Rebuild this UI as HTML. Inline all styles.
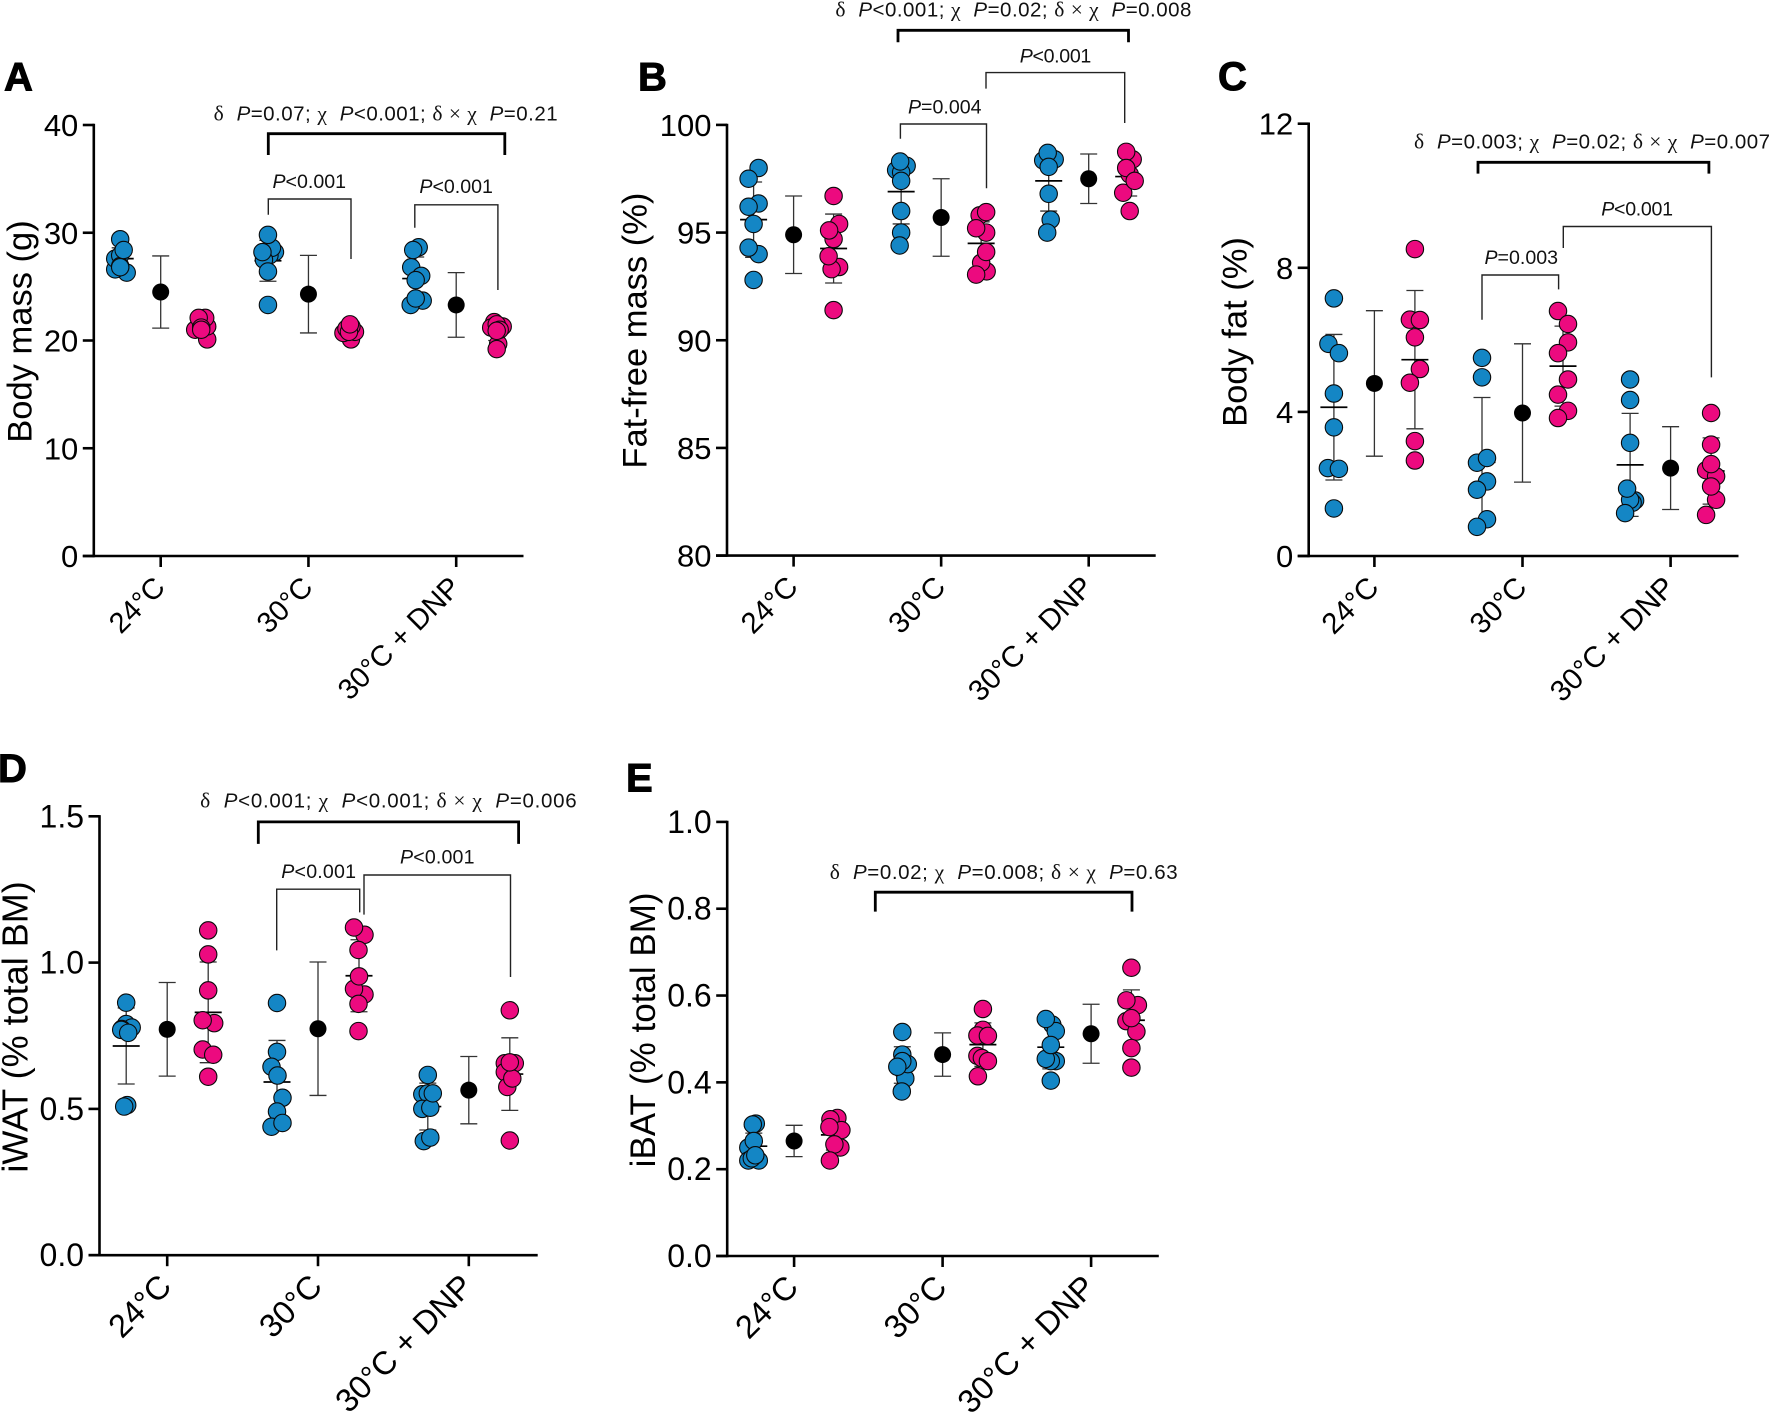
<!DOCTYPE html>
<html lang="en">
<head>
<meta charset="utf-8">
<title>Body composition by temperature and DNP treatment</title>
<style>
html,body{margin:0;padding:0;background:#fff;}
svg{display:block;font-family:"Liberation Sans",Arial,sans-serif;}
.letter{font-size:40px;font-weight:700;stroke:#000;stroke-width:1px;}
.ytitle{font-size:34.5px;text-anchor:middle;}
.anno{font-size:20.5px;fill:#111;}
.anno.sm{font-size:19.6px;}
.gk{font-family:"Liberation Serif",serif;font-size:21.5px;}
.it{font-style:italic;}
.bk{fill:none;stroke:#000;stroke-width:2.8px;}
.br{fill:none;stroke:#222;stroke-width:1.4px;}
.tick-label{font-size:31px;text-anchor:end;}
.cat-label{text-anchor:end;}
</style>
</head>
<body>
<svg id="fig" xmlns="http://www.w3.org/2000/svg" width="1772" height="1416" viewBox="0 0 1772 1416">
<rect width="1772" height="1416" fill="#fff"/>

<g id="panel-a">
  <text class="letter" x="4" y="90.7">A</text>
  <text class="ytitle" transform="translate(31.4 331.5) rotate(-90)">Body mass (g)</text>
  <text class="anno" x="213.6" y="120.7" textLength="344" lengthAdjust="spacing"><tspan class="gk">δ</tspan>&#160;&#160;<tspan class="it">P</tspan>=0.07; <tspan class="gk">χ</tspan>&#160;&#160;<tspan class="it">P</tspan>&lt;0.001; <tspan class="gk">δ × χ</tspan>&#160;&#160;<tspan class="it">P</tspan>=0.21</text>
  <path class="bk" d="M268.3 155V133.7H504.8V155"/>
  <path class="br" d="M268.3 214.8V199H351V259"/>
  <text class="anno sm" x="272.5" y="188" textLength="73.5"><tspan class="it">P</tspan>&lt;0.001</text>
  <path class="br" d="M414.8 227.8V204.8H497.9V290"/>
  <text class="anno sm" x="419.4" y="193" textLength="73.5"><tspan class="it">P</tspan>&lt;0.001</text>
</g>

<g id="panel-b">
  <text class="letter" x="638" y="90.5">B</text>
  <text class="ytitle" transform="translate(646.7 330.6) rotate(-90)">Fat-free mass (%)</text>
  <text class="anno" x="835.4" y="16.5" textLength="356" lengthAdjust="spacing"><tspan class="gk">δ</tspan>&#160;&#160;<tspan class="it">P</tspan>&lt;0.001; <tspan class="gk">χ</tspan>&#160;&#160;<tspan class="it">P</tspan>=0.02; <tspan class="gk">δ × χ</tspan>&#160;&#160;<tspan class="it">P</tspan>=0.008</text>
  <path class="bk" d="M898 42.2V30.3H1128.5V42.2"/>
  <path class="br" d="M986 88.6V72.6H1124.7V123"/>
  <text class="anno sm" x="1019.8" y="62.5" textLength="71.5"><tspan class="it">P</tspan>&lt;0.001</text>
  <path class="br" d="M900.4 138.7V124H986.5V188.3"/>
  <text class="anno sm" x="908" y="113.4" textLength="73.5"><tspan class="it">P</tspan>=0.004</text>
</g>

<g id="panel-c">
  <text class="letter" x="1218" y="89.9">C</text>
  <text class="ytitle" transform="translate(1246.3 332) rotate(-90)">Body fat (%)</text>
  <text class="anno" x="1414" y="148.4" textLength="356" lengthAdjust="spacing"><tspan class="gk">δ</tspan>&#160;&#160;<tspan class="it">P</tspan>=0.003; <tspan class="gk">χ</tspan>&#160;&#160;<tspan class="it">P</tspan>=0.02; <tspan class="gk">δ × χ</tspan>&#160;&#160;<tspan class="it">P</tspan>=0.007</text>
  <path class="bk" d="M1478 173.6V162.3H1708.9V173.6"/>
  <path class="br" d="M1563.3 248V226.5H1711.4V377.4"/>
  <text class="anno sm" x="1601.3" y="215.6" textLength="71.7"><tspan class="it">P</tspan>&lt;0.001</text>
  <path class="br" d="M1482 319.7V275H1558.6V289.4"/>
  <text class="anno sm" x="1484.5" y="264.2" textLength="73.5"><tspan class="it">P</tspan>=0.003</text>
</g>

<g id="panel-d">
  <text class="letter" x="-2" y="782">D</text>
  <text class="ytitle" style="font-size:36px" transform="translate(27.5 1027) rotate(-90)">iWAT (% total BM)</text>
  <text class="anno" x="200.1" y="807.7" textLength="376.6" lengthAdjust="spacing"><tspan class="gk">δ</tspan>&#160;&#160;<tspan class="it">P</tspan>&lt;0.001; <tspan class="gk">χ</tspan>&#160;&#160;<tspan class="it">P</tspan>&lt;0.001; <tspan class="gk">δ × χ</tspan>&#160;&#160;<tspan class="it">P</tspan>=0.006</text>
  <path class="bk" d="M258.3 843.9V821.9H518.6V843.9"/>
  <path class="br" d="M276.7 950.4V889.2H359.7V912.4"/>
  <text class="anno sm" x="281.3" y="878" textLength="74.7"><tspan class="it">P</tspan>&lt;0.001</text>
  <path class="br" d="M364 914.6V875H510.5V977"/>
  <text class="anno sm" x="400" y="863.3" textLength="74.5"><tspan class="it">P</tspan>&lt;0.001</text>
</g>

<g id="panel-e">
  <text class="letter" x="626" y="791.7">E</text>
  <text class="ytitle" style="font-size:35px" transform="translate(655.2 1029.9) rotate(-90)">iBAT (% total BM)</text>
  <text class="anno" x="829.7" y="878.8" textLength="347.9" lengthAdjust="spacing"><tspan class="gk">δ</tspan>&#160;&#160;<tspan class="it">P</tspan>=0.02; <tspan class="gk">χ</tspan>&#160;&#160;<tspan class="it">P</tspan>=0.008; <tspan class="gk">δ × χ</tspan>&#160;&#160;<tspan class="it">P</tspan>=0.63</text>
  <path class="bk" d="M875.3 911.6V892.2H1132V911.6"/>
</g>
</svg>

<script>
// Shared categories
const categories = ['24°C', '30°C', '30°C + DNP'];

// Panel A – body mass (g)
const aTicks = [0, 10, 20, 30, 40];
const aTickLabels = ['0', '10', '20', '30', '40'];
const aBlue = [[26.3,26.6,27.6,29.4,27.9,26.9,28.4,26.8],[28.2,27.9,28.6,29.8,27.5,28.2,26.4,23.3],[23.7,28.65,23.3,26.8,28.4,26,25.6,23.9]];
const aBlueSwarm = [[1.3,-1,-1,0,0,0,0.7,0],[1.4,0.3,0.8,0,-0.8,-1.1,0,0],[1.4,0.6,-1,-0.9,-0.5,1.1,0,0]];
const aPink = [[20.1,21.3,21.0,21.5,22.1,22.1,21.2,21.0],[20.1,20.8,20.7,20.9,21.1,21.3,20.8,21.5],[19.7,21.3,21.7,21.2,21.5,21.0,20.9,19.2]];
const aPinkSwarm = [[1.2,1.2,-1.2,0,0.8,-0.5,0,0],[0.4,1.2,-1.1,0,-0.5,0.5,0,0.2],[0.3,1.2,-0.5,-1.1,0,0.6,0,0]];
const aBlueMean = [27.6,27.4,25.75];
const aBlueSd = [1.0,1.9,2.0];
const aPinkMean = [21.3,20.9,20.9];
const aPinkSd = [0.7,0.5,0.9];
const aPoolMean = [24.5,24.3,23.3];
const aPoolSd = [3.35,3.6,3.0];

// Panel B – fat-free mass (%)
const bTicks = [80, 85, 90, 95, 100];
const bTickLabels = ['80', '85', '90', '95', '100'];
const bBlue = [[98.0,97.5,96.35,96.2,95.4,94.0,94.3,92.8],[98.1,97.9,97.8,97.4,98.3,96,95,94.4],[98.4,98.35,98.7,98.05,96.8,95.6,95.0]];
const bBlueSwarm = [[1,-1,1,-1,0,1,-1,0],[1.1,-1,0,0,-0.2,0,0,-0.3],[1.2,-1.1,-0.2,0,0,0.4,-0.3]];
const bPink = [[96.7,95.4,94.7,95.1,93.4,93.3,93.9,91.4],[95.8,95.95,95,95.2,93.2,93.6,94.1,93.05],[98.4,98.75,97.7,98.0,96.0,96.85,97.4]];
const bPinkSwarm = [[0,1.1,0,-0.9,1.1,-0.4,-1,0],[-0.3,1,1,-1,1.1,0,1,-1],[0.8,-0.5,0.2,-0.5,0.2,-1.1,1.2]];
const bBlueMean = [95.6,96.9,97.4];
const bBlueSd = [1.75,1.5,1.4];
const bPinkMean = [94.26,94.5,97.6];
const bPinkSd = [1.6,1.0,0.9];
const bPoolMean = [94.9,95.7,97.5];
const bPoolSd = [1.8,1.8,1.15];

// Panel C – body fat (%)
const cTicks = [0, 4, 8, 12];
const cTickLabels = ['0', '4', '8', '12'];
const cBlue = [[7.15,5.89,5.63,4.51,3.57,2.44,2.42,1.32],[5.5,4.96,2.59,2.72,2.07,1.84,1.02,0.81],[4.9,4.33,3.14,1.54,1.48,1.56,1.19,1.87]];
const cBlueSwarm = [[0,-1.1,1,0,0,-1.2,1,0],[0,0,-1,1,1,-1,1,-1],[0,0,0,1,0.5,0,-1,-0.6]];
const cPink = [[8.52,6.56,6.55,6.07,5.19,4.81,3.19,2.65],[6.8,6.44,5.93,5.63,4.9,4.48,4.03,3.83],[3.97,3.09,2.38,2.21,2.55,1.56,1.93,1.14]];
const cPinkSwarm = [[0,-1,1,0,1,-1,0,0],[-1,1,1,-1,1,-1,1,-1],[0,0,-1,1,0,1,0,-1]];
const cBlueMean = [4.13,2.6,2.53];
const cBlueSd = [2.02,1.8,1.43];
const cPinkMean = [5.45,5.27,2.36];
const cPinkSd = [1.92,1.11,0.92];
const cPoolMean = [4.79,3.97,2.44];
const cPoolSd = [2.02,1.92,1.15];

// Panel D – iWAT (% total BM)
const dTicks = [0, 0.5, 1.0, 1.5];
const dTickLabels = ['0.0', '0.5', '1.0', '1.5'];
const dBlue = [[0.863,0.79,0.778,0.773,0.77,0.513,0.508,0.76],[0.862,0.695,0.644,0.614,0.538,0.491,0.439,0.452],[0.616,0.55,0.553,0.5,0.504,0.553,0.39,0.402]];
const dBlueSwarm = [[0,0,1.1,-0.9,-1,0.2,-0.4,0.4],[0,0,-1.1,0.1,1.1,0,-1.1,1.1],[0,-1.1,0,-1.1,0.5,1,-0.8,0.5]];
const dPink = [[1.11,1.028,0.905,0.793,0.803,0.703,0.685,0.61],[1.095,1.12,1.043,0.891,0.91,0.953,0.859,0.766],[0.837,0.656,0.656,0.626,0.575,0.604,0.659,0.392]];
const dPinkSwarm = [[0,0,0,1.2,-1.1,-1.1,1,0],[1.1,-1,-0.1,1.1,-1,0,-0.1,-0.1],[0,-1,1,-1,-0.5,0.5,0,0]];
const dBlueMean = [0.715,0.592,0.508];
const dBlueSd = [0.13,0.142,0.08];
const dPinkMean = [0.83,0.955,0.619];
const dPinkSd = [0.172,0.123,0.124];
const dPoolMean = [0.772,0.774,0.564];
const dPoolSd = [0.16,0.228,0.115];

// Panel E – iBAT (% total BM)
const eTicks = [0, 0.2, 0.4, 0.6, 0.8, 1.0];
const eTickLabels = ['0.0', '0.2', '0.4', '0.6', '0.8', '1.0'];
const eBlue = [[0.305,0.303,0.25,0.265,0.22,0.22,0.225,0.232],[0.516,0.464,0.429,0.409,0.379,0.442,0.449,0.436],[0.533,0.518,0.546,0.449,0.449,0.454,0.404,0.486]];
const eBlueSwarm = [[0.4,-0.2,-1.1,0,-1.1,1,-0.4,0.3],[0,0,0,0.6,-0.1,1.1,0,-1],[0.3,1,-1,1,0,-1,0,0]];
const ePink = [[0.318,0.315,0.29,0.25,0.297,0.257,0.22],[0.569,0.521,0.508,0.461,0.414,0.456,0.449,0.507],[0.664,0.578,0.541,0.517,0.479,0.434,0.589,0.548]];
const ePinkSwarm = [[0.6,-0.8,1.4,1.2,-1,0,-0.9],[0,0,-1.1,-1.1,-1,-0.2,1,1],[0,1.3,-1,1,0,0,-1,0]];
const eBlueMean = [0.253,0.44,0.481];
const eBlueSd = [0.03,0.042,0.05];
const ePinkMean = [0.279,0.487,0.543];
const ePinkSd = [0.035,0.05,0.07];
const ePoolMean = [0.265,0.464,0.512];
const ePoolSd = [0.036,0.05,0.068];

const SVG_NS = 'http://www.w3.org/2000/svg';
const BLUE = '#1486c5';
const PINK = '#ec0a7f';
const R = 8.7;
const POOL_R = 8.5;
const SWARM_STEP = 5;

function mk(tag, parent, attrs) {
  const el = document.createElementNS(SVG_NS, tag);
  for (const k in attrs) el.setAttribute(k, attrs[k]);
  parent.appendChild(el);
  return el;
}

function drawStat(g, x, y, mean, sd, withMeanLine, key) {
  const stem = mk('line', g, {x1: x, x2: x, y1: y(mean - sd), y2: y(mean + sd), stroke: '#333', 'stroke-width': 1.3});
  
  
  [mean - sd, mean + sd].forEach(function (v) {
    const cap = mk('line', g, {x1: x - 8.5, x2: x + 8.5, y1: y(v), y2: y(v), stroke: '#333', 'stroke-width': 1.3});
    
    
  });
  if (withMeanLine) {
    const line = mk('line', g, {x1: x - 13.5, x2: x + 13.5, y1: y(mean), y2: y(mean), stroke: '#000', 'stroke-width': 1.7});
    
    
  }
}

function drawPoints(g, x, y, values, swarm, fill, key) {
  values.forEach(function (v, i) {
    const c = mk('circle', g, {cx: x + swarm[i] * SWARM_STEP, cy: y(v), r: R, fill: fill, stroke: '#0a0a0a', 'stroke-width': 1.1});
    
    
  });
}

function drawPanel(id, f, s) {
  const root = document.getElementById('panel-' + id);
  const y = function (v) { return f.bottom - (v - f.vMin) / (f.vMax - f.vMin) * (f.bottom - f.top); };
  const catX = function (i) { return f.cat0 + i * f.catStep; };

  const axes = mk('g', root, {});
  
  

  const yAxis = mk('line', axes, {x1: f.left, x2: f.left, y1: y(f.vMax) - 1.2, y2: f.bottom + 1.2, stroke: '#000', 'stroke-width': 2.6});
  
  
  const xAxis = mk('line', axes, {x1: f.left - 11, x2: f.right, y1: f.bottom, y2: f.bottom, stroke: '#000', 'stroke-width': 2.6});
  
  

  s.ticks.forEach(function (t, i) {
    const tk = mk('line', axes, {x1: f.left - 11, x2: f.left, y1: y(t), y2: y(t), stroke: '#000', 'stroke-width': 2.6});
    
    
    const lb = mk('text', axes, {x: f.left - 15.5, y: y(t) + 11, class: 'tick-label', style: 'font-size:' + f.tickFont + 'px'});
    
    
    lb.textContent = s.labels[i];
  });

  categories.forEach(function (name, i) {
    const cx = catX(i);
    const tk = mk('line', axes, {x1: cx, x2: cx, y1: f.bottom, y2: f.bottom + 11, stroke: '#000', 'stroke-width': 2.6});
    
    
    const lb = mk('text', axes, {x: 0, y: 0, class: 'cat-label', style: 'font-size:' + f.catFont + 'px', transform: 'translate(' + (cx + 6) + ' ' + (f.bottom + 33) + ') rotate(-45)'});
    
    
    lb.textContent = name;

    const key = 'panel-' + id + '-group-' + (i + 1);
    const g = mk('g', root, {});
    
    
    const xb = cx - f.offset, xp = cx + f.offset;
    drawStat(g, xb, y, s.blueMean[i], s.blueSd[i], true, 'blue');
    drawStat(g, cx, y, s.poolMean[i], s.poolSd[i], false, 'pooled');
    drawStat(g, xp, y, s.pinkMean[i], s.pinkSd[i], true, 'pink');
    drawPoints(g, xb, y, s.blue[i], s.blueSwarm[i], BLUE, 'blue');
    drawPoints(g, xp, y, s.pink[i], s.pinkSwarm[i], PINK, 'pink');
    const dot = mk('circle', g, {cx: cx, cy: y(s.poolMean[i]), r: POOL_R, fill: '#000'});
    
    
  });
}

drawPanel('a', {left: 93.8, right: 523.5, top: 125, bottom: 556, vMin: 0, vMax: 40, cat0: 160.7, catStep: 147.75, offset: 40.5, tickFont: 31, catFont: 29},
  {ticks: aTicks, labels: aTickLabels, blue: aBlue, blueSwarm: aBlueSwarm, pink: aPink, pinkSwarm: aPinkSwarm, blueMean: aBlueMean, blueSd: aBlueSd, pinkMean: aPinkMean, pinkSd: aPinkSd, poolMean: aPoolMean, poolSd: aPoolSd});
drawPanel('b', {left: 727, right: 1155.7, top: 124.9, bottom: 555.6, vMin: 80, vMax: 100, cat0: 793.6, catStep: 147.55, offset: 40, tickFont: 31, catFont: 29.5},
  {ticks: bTicks, labels: bTickLabels, blue: bBlue, blueSwarm: bBlueSwarm, pink: bPink, pinkSwarm: bPinkSwarm, blueMean: bBlueMean, blueSd: bBlueSd, pinkMean: bPinkMean, pinkSd: bPinkSd, poolMean: bPoolMean, poolSd: bPoolSd});
drawPanel('c', {left: 1308.7, right: 1738.5, top: 123.7, bottom: 556, vMin: 0, vMax: 12, cat0: 1374.4, catStep: 148.1, offset: 40.5, tickFont: 31, catFont: 29.5},
  {ticks: cTicks, labels: cTickLabels, blue: cBlue, blueSwarm: cBlueSwarm, pink: cPink, pinkSwarm: cPinkSwarm, blueMean: cBlueMean, blueSd: cBlueSd, pinkMean: cPinkMean, pinkSd: cPinkSd, poolMean: cPoolMean, poolSd: cPoolSd});
drawPanel('d', {left: 99.5, right: 537.7, top: 816.3, bottom: 1255.2, vMin: 0, vMax: 1.5, cat0: 167.2, catStep: 150.8, offset: 41, tickFont: 32, catFont: 32.5},
  {ticks: dTicks, labels: dTickLabels, blue: dBlue, blueSwarm: dBlueSwarm, pink: dPink, pinkSwarm: dPinkSwarm, blueMean: dBlueMean, blueSd: dBlueSd, pinkMean: dPinkMean, pinkSd: dPinkSd, poolMean: dPoolMean, poolSd: dPoolSd});
drawPanel('e', {left: 727.2, right: 1158.8, top: 821.9, bottom: 1256, vMin: 0, vMax: 1, cat0: 794.1, catStep: 148.5, offset: 40.3, tickFont: 32, catFont: 32.5},
  {ticks: eTicks, labels: eTickLabels, blue: eBlue, blueSwarm: eBlueSwarm, pink: ePink, pinkSwarm: ePinkSwarm, blueMean: eBlueMean, blueSd: eBlueSd, pinkMean: ePinkMean, pinkSd: ePinkSd, poolMean: ePoolMean, poolSd: ePoolSd});
</script>
</body>
</html>
